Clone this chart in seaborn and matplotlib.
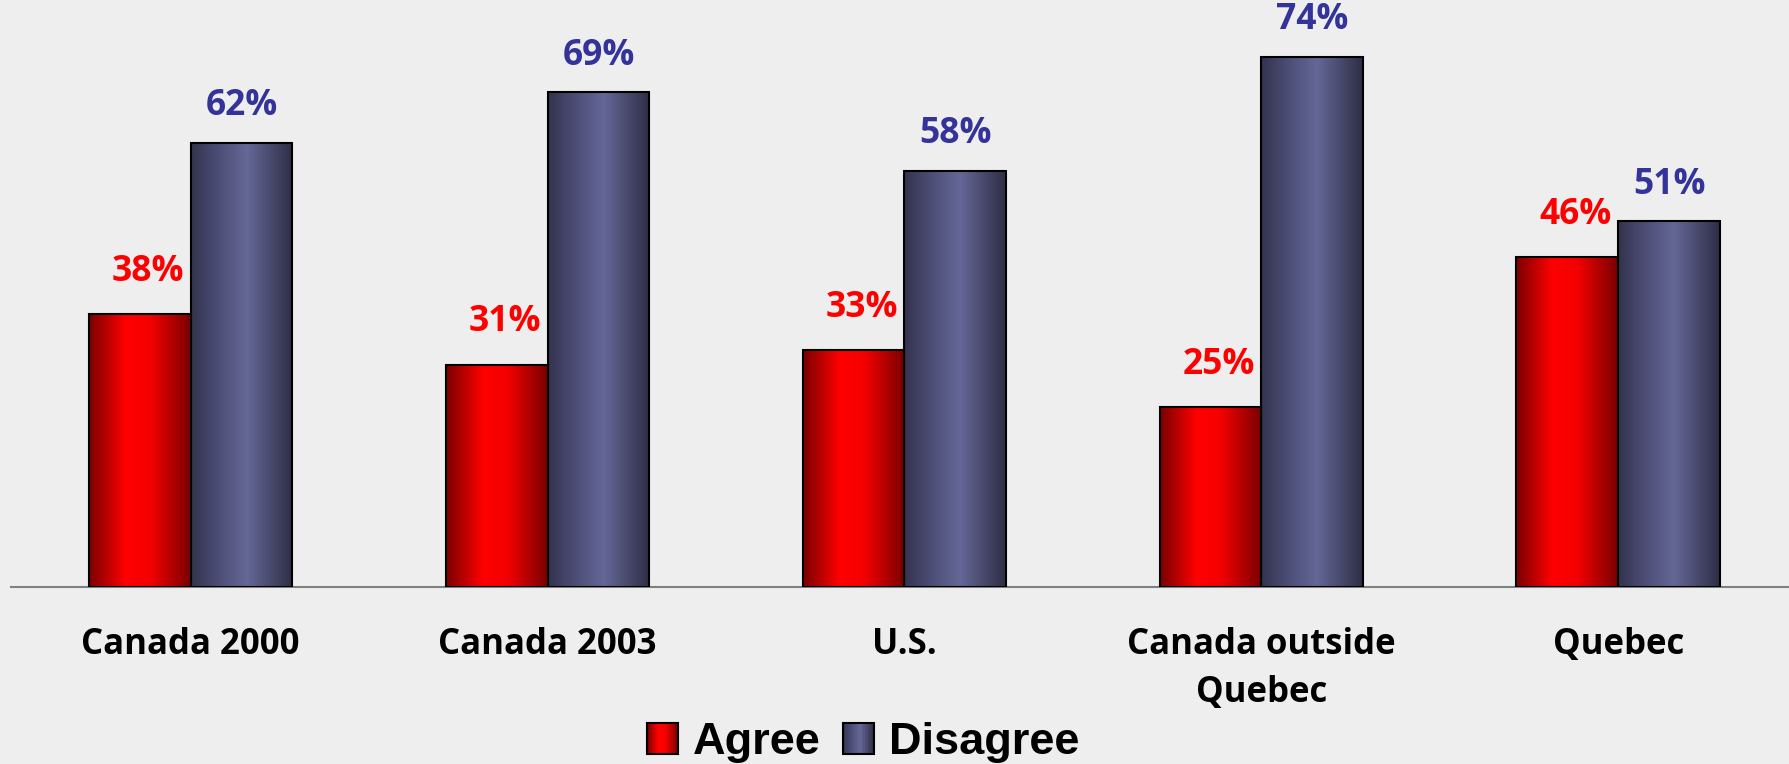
import numpy as np
import pandas as pd
import matplotlib
matplotlib.use("Agg")
import matplotlib.pyplot as plt
import seaborn as sns
from matplotlib.colors import LinearSegmentedColormap
from matplotlib.patches import Rectangle
from matplotlib.legend_handler import HandlerBase

# ---- data ----
categories = ["Canada 2000", "Canada 2003", "U.S.", "Canada outside\nQuebec", "Quebec"]
series = ["Agree", "Disagree"]
agree = [38, 31, 33, 25, 46]
disagree = [62, 69, 58, 74, 51]

df = pd.DataFrame({
    "category": categories * 2,
    "response": ["Agree"] * len(categories) + ["Disagree"] * len(categories),
    "value": agree + disagree,
})

BG = "#eeeeee"
FONT = ["Open Sans", "DejaVu Sans"]
red_cmap = LinearSegmentedColormap.from_list(
    "redgrad", [(0.0, "#7a0000"), (0.36, "#ff0000"), (0.6, "#f40000"), (1.0, "#7a0000")])
blue_cmap = LinearSegmentedColormap.from_list(
    "bluegrad", [(0.0, "#33334d"), (0.25, "#4b4c74"), (0.55, "#656797"), (1.0, "#2e2e45")])
cmaps = {"Agree": red_cmap, "Disagree": blue_cmap}
label_colors = {"Agree": "#ff0000", "Disagree": "#333399"}
label_dy = {"Agree": 24, "Disagree": 20}
label_dx = {"Agree": 6, "Disagree": 0}

sns.set_theme(style="white")
plt.rcParams["font.family"] = FONT
plt.rcParams["text.color"] = "black"

fig = plt.figure(figsize=(17.89, 7.64), dpi=100, facecolor=BG)
ax = fig.add_axes([11 / 1789, 1 - 586.5 / 764, 1 - 11 / 1789, 586.5 / 764])
ax.set_facecolor(BG)

sns.barplot(data=df, x="category", y="value", hue="response", order=categories,
            hue_order=series, palette=["#ff0000", "#5f6090"], width=0.571, gap=0,
            edgecolor="black", linewidth=1.5, legend=False, ax=ax, zorder=3)

xlim = (-0.503, 4.478)
ylim = (0, 81.9)

grad = np.linspace(0, 1, 256).reshape(1, -1)
for container, name in zip(ax.containers, series):
    for rect in container:
        x0, w, h = rect.get_x(), rect.get_width(), rect.get_height()
        im = ax.imshow(grad, cmap=cmaps[name], extent=(x0, x0 + w, 0, h),
                       aspect="auto", zorder=2, interpolation="bilinear")
        im.set_clip_path(rect)
        rect.set_facecolor("none")
        ax.annotate(f"{int(round(h))}%", (x0 + w / 2, h),
                    xytext=(label_dx[name], label_dy[name]), textcoords="offset points",
                    ha="center", va="baseline", fontsize=25.5, fontweight="bold",
                    color=label_colors[name], family=FONT)

ax.set_xlim(*xlim)
ax.set_ylim(*ylim)
ax.set_xlabel("")
ax.set_ylabel("")
ax.set_yticks([])
for s in ["top", "left", "right"]:
    ax.spines[s].set_visible(False)
ax.spines["bottom"].set_color("#808080")
ax.spines["bottom"].set_linewidth(1.5)
ax.tick_params(axis="x", length=0, pad=29)
for lab in ax.get_xticklabels():
    lab.set_fontsize(25)
    lab.set_fontweight("bold")
    lab.set_family(FONT)
    lab.set_color("black")
    lab.set_verticalalignment("top")
    lab.set_linespacing(1.45)


class GradientHandler(HandlerBase):
    def __init__(self, cmap):
        super().__init__()
        self.cmap = cmap

    def create_artists(self, legend, orig_handle, xdescent, ydescent, width, height,
                       fontsize, trans):
        arts = []
        n = 20
        for i in range(n):
            arts.append(Rectangle((-xdescent + width * i / n, -ydescent), width / n + 0.3, height,
                                  facecolor=self.cmap((i + 0.5) / n), edgecolor="none",
                                  transform=trans))
        arts.append(Rectangle((-xdescent, -ydescent), width, height, facecolor="none",
                              edgecolor="black", linewidth=1.5, transform=trans))
        return arts


handles = [Rectangle((0, 0), 1, 1) for _ in series]
fig.legend(handles, series, loc="center", bbox_to_anchor=(0.4825, 0.028), ncol=2,
           frameon=False, handlelength=0.68, handleheight=0.68, handletextpad=0.33,
           columnspacing=0.5, borderaxespad=0, labelcolor="black",
           handler_map={handles[0]: GradientHandler(red_cmap), handles[1]: GradientHandler(blue_cmap)},
           prop={"family": "Liberation Sans", "weight": "bold", "size": 32.5})

fig.savefig("out.png", dpi=100, facecolor=BG)
